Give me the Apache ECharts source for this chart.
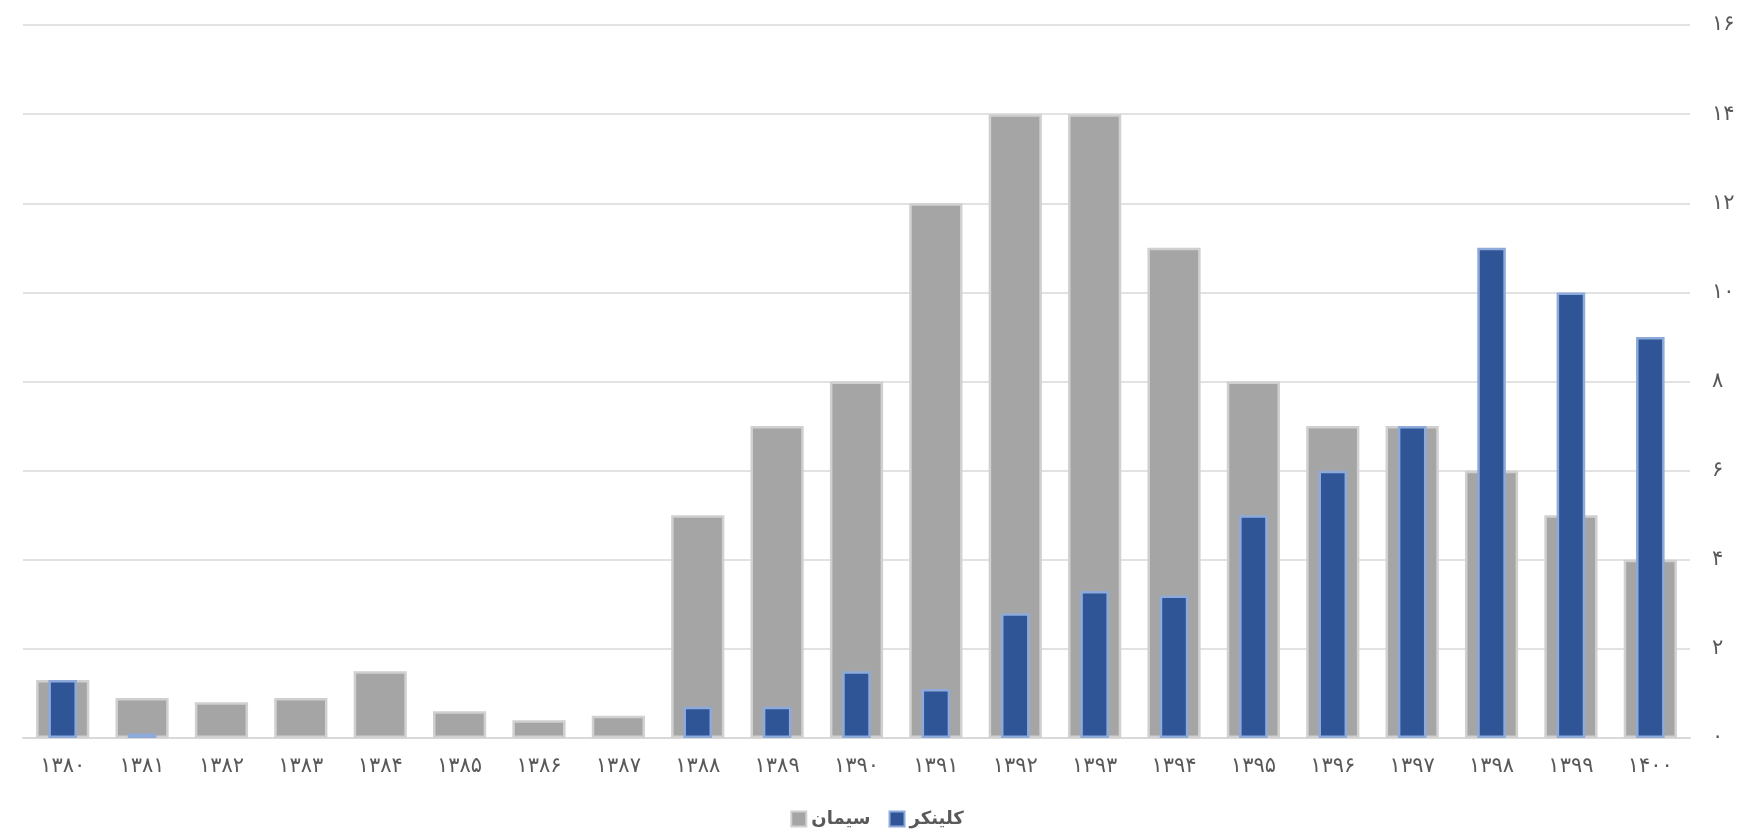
<!DOCTYPE html>
<html>
<head>
<meta charset="utf-8">
<script src="https://cdn.jsdelivr.net/npm/echarts@6/dist/echarts.min.js"></script>
<style>html,body{margin:0;padding:0;background:#fff;}#c{width:1754px;height:835px;}</style>
</head>
<body>
<div id="c"></div>
<script>
const categories = ['۱۳۸۰','۱۳۸۱','۱۳۸۲','۱۳۸۳','۱۳۸۴','۱۳۸۵','۱۳۸۶','۱۳۸۷','۱۳۸۸','۱۳۸۹','۱۳۹۰','۱۳۹۱','۱۳۹۲','۱۳۹۳','۱۳۹۴','۱۳۹۵','۱۳۹۶','۱۳۹۷','۱۳۹۸','۱۳۹۹','۱۴۰۰'];
const cementValues = [1.3, 0.9, 0.8, 0.9, 1.5, 0.6, 0.4, 0.5, 5, 7, 8, 12, 14, 14, 11, 8, 7, 7, 6, 5, 4];
const clinkerValues = [1.3, 0.1, null, null, null, null, null, null, 0.7, 0.7, 1.5, 1.1, 2.8, 3.3, 3.2, 5, 6, 7, 11, 10, 9];
const seriesNames = ['سیمان', 'کلینکر'];
const yTickLabels = {0:'۰',2:'۲',4:'۴',6:'۶',8:'۸',10:'۱۰',12:'۱۲',14:'۱۴',16:'۱۶'};

const chart = echarts.init(document.getElementById('c'));
const font = 'DejaVu Sans';
chart.setOption({
  animation: false,
  textStyle: { fontFamily: font },
  grid: { left: 23, right: 64, top: 25, bottom: 97, containLabel: false },
  legend: {
    data: seriesNames,
    icon: 'rect',
    left: 'center',
    top: 805,
    itemWidth: 15,
    itemHeight: 15,
    itemGap: 18,
    textStyle: { color: '#595959', fontSize: 18, fontWeight: 'bold', fontFamily: font }
  },
  xAxis: [
    {
      type: 'category',
      data: categories,
      axisLine: { lineStyle: { color: '#d9d9d9', width: 2 } },
      axisTick: { show: false },
      axisLabel: { color: '#595959', fontSize: 21, margin: 18, fontFamily: font }
    },
    {
      type: 'category',
      data: categories,
      show: false
    }
  ],
  yAxis: {
    type: 'value',
    position: 'right',
    min: 0,
    max: 16,
    interval: 2,
    axisLine: { show: false },
    axisTick: { show: false },
    splitLine: { lineStyle: { color: '#d9d9d9', width: 1.5 } },
    axisLabel: {
      color: '#595959', fontSize: 21, margin: 22, fontFamily: font,
      formatter: v => yTickLabels[v] !== undefined ? yTickLabels[v] : String(v)
    }
  },
  series: [
    {
      name: seriesNames[0],
      type: 'bar',
      xAxisIndex: 0,
      data: cementValues,
      barWidth: '67%',
      itemStyle: { color: '#a5a5a5', borderColor: '#d0d0d0', borderWidth: 2.5 }
    },
    {
      name: seriesNames[1],
      type: 'bar',
      xAxisIndex: 1,
      data: clinkerValues,
      barWidth: '36%',
      itemStyle: { color: '#2f5597', borderColor: '#8eaadb', borderWidth: 2.5 }
    }
  ]
});
</script>
</body>
</html>
